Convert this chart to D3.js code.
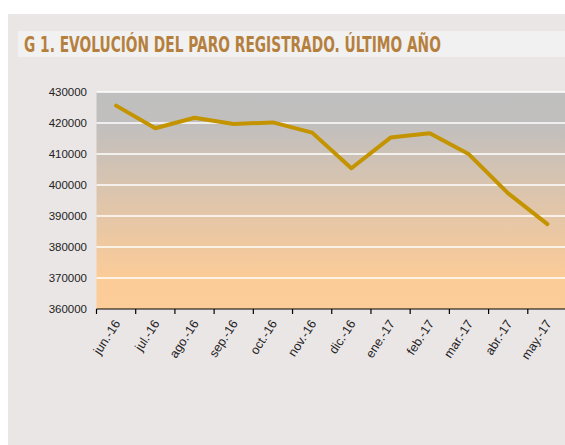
<!DOCTYPE html>
<html>
<head>
<meta charset="utf-8">
<script src="https://cdn.jsdelivr.net/npm/d3@7"></script>
<style>
  body { margin: 0; background: #fff; }
  svg { display: block; }
</style>
</head>
<body>
<script>
var months = ["jun.-16", "jul.-16", "ago.-16", "sep.-16", "oct.-16", "nov.-16",
              "dic.-16", "ene.-17", "feb.-17", "mar.-17", "abr.-17", "may.-17"];
var paro = [425600, 418300, 421700, 419700, 420200, 416900,
            405400, 415300, 416700, 409900, 397300, 387400];
var yTicks = [360000, 370000, 380000, 390000, 400000, 410000, 420000, 430000];

var W = 565, H = 445;
var plot = {left: 96.5, right: 567, top: 92, bottom: 309};

var svg = d3.select("body").append("svg")
    .attr("width", W)
    .attr("height", H);

// panel background
svg.append("rect")
    .attr("x", 8).attr("y", 14)
    .attr("width", W - 8).attr("height", H - 14)
    .style("fill", "#ebe6e6");

// title band
svg.append("rect")
    .attr("x", 18).attr("y", 31)
    .attr("width", W - 18).attr("height", 26)
    .style("fill", "#f2f1f1");

// title: squeeze horizontally to look condensed
var title = svg.append("text")
    .style("font-family", "'Liberation Sans Narrow', 'DejaVu Sans', sans-serif")
    .style("font-weight", "bold")
    .style("font-size", "22px")
    .style("fill", "#b5803e")
    .text("G 1. EVOLUCIÓN DEL PARO REGISTRADO. ÚLTIMO AÑO");
var tw = title.node().getComputedTextLength();
title.attr("transform", "translate(24,51.5) scale(" + (417 / tw) + ",1)");

var x = d3.scaleBand().domain(months).range([plot.left, plot.right]);
var y = d3.scaleLinear().domain([360000, 430000]).range([plot.bottom, plot.top]);

// gradient
var defs = svg.append("defs");
var grad = defs.append("linearGradient")
    .attr("id", "bg")
    .attr("x1", 0).attr("y1", 0).attr("x2", 0).attr("y2", 1);
grad.append("stop").attr("offset", "0%").attr("stop-color", "#bfbfbf");
grad.append("stop").attr("offset", "15%").attr("stop-color", "#c1bfbe");
grad.append("stop").attr("offset", "85%").attr("stop-color", "#fbcb98");
grad.append("stop").attr("offset", "100%").attr("stop-color", "#fdcd99");

svg.append("rect")
    .attr("x", plot.left)
    .attr("y", y(430000))
    .attr("width", W - plot.left)
    .attr("height", y(360000) - y(430000))
    .style("fill", "url(#bg)");

// gridlines
svg.append("g")
  .selectAll("line")
  .data(yTicks.slice(1))
  .enter().append("line")
    .attr("x1", plot.left)
    .attr("x2", W)
    .attr("y1", function(d) { return y(d); })
    .attr("y2", function(d) { return y(d); })
    .style("stroke", "#ffffff")
    .style("stroke-width", 1.5);

// y labels
svg.append("g")
  .selectAll("text")
  .data(yTicks)
  .enter().append("text")
    .attr("x", 87)
    .attr("y", function(d) { return y(d); })
    .attr("dy", "0.35em")
    .style("text-anchor", "end")
    .style("font-family", "'Liberation Sans', Arial, sans-serif")
    .style("font-size", "11.5px")
    .style("fill", "#222")
    .text(function(d) { return d; });

// x axis
var xAxis = svg.append("g")
    .attr("transform", "translate(0," + plot.bottom + ")");

xAxis.append("line")
    .attr("x1", plot.left).attr("x2", W)
    .style("stroke", "#000").style("stroke-width", 1.2);

xAxis.selectAll(".tk")
  .data(months)
  .enter().append("line")
    .attr("class", "tk")
    .attr("x1", function(d) { return x(d); })
    .attr("x2", function(d) { return x(d); })
    .attr("y1", 0).attr("y2", 5)
    .style("stroke", "#000").style("stroke-width", 1.2);

xAxis.selectAll("text")
  .data(months)
  .enter().append("text")
    .attr("transform", function(d) {
        return "translate(" + (x(d) + x.bandwidth() / 2 + 1) + ",12) rotate(-57)";
    })
    .style("text-anchor", "end")
    .attr("dy", "0.35em")
    .style("font-family", "'Liberation Sans', Arial, sans-serif")
    .style("font-size", "12.5px")
    .style("fill", "#222")
    .text(function(d) { return d; });

// line
var line = d3.line()
    .x(function(d, i) { return x(months[i]) + x.bandwidth() / 2; })
    .y(function(d) { return y(d); });

svg.append("path")
    .datum(paro)
    .attr("d", line)
    .style("fill", "none")
    .style("stroke", "#c49400")
    .style("stroke-width", 4)
    .style("stroke-linecap", "round")
    .style("stroke-linejoin", "round");
</script>
</body>
</html>
